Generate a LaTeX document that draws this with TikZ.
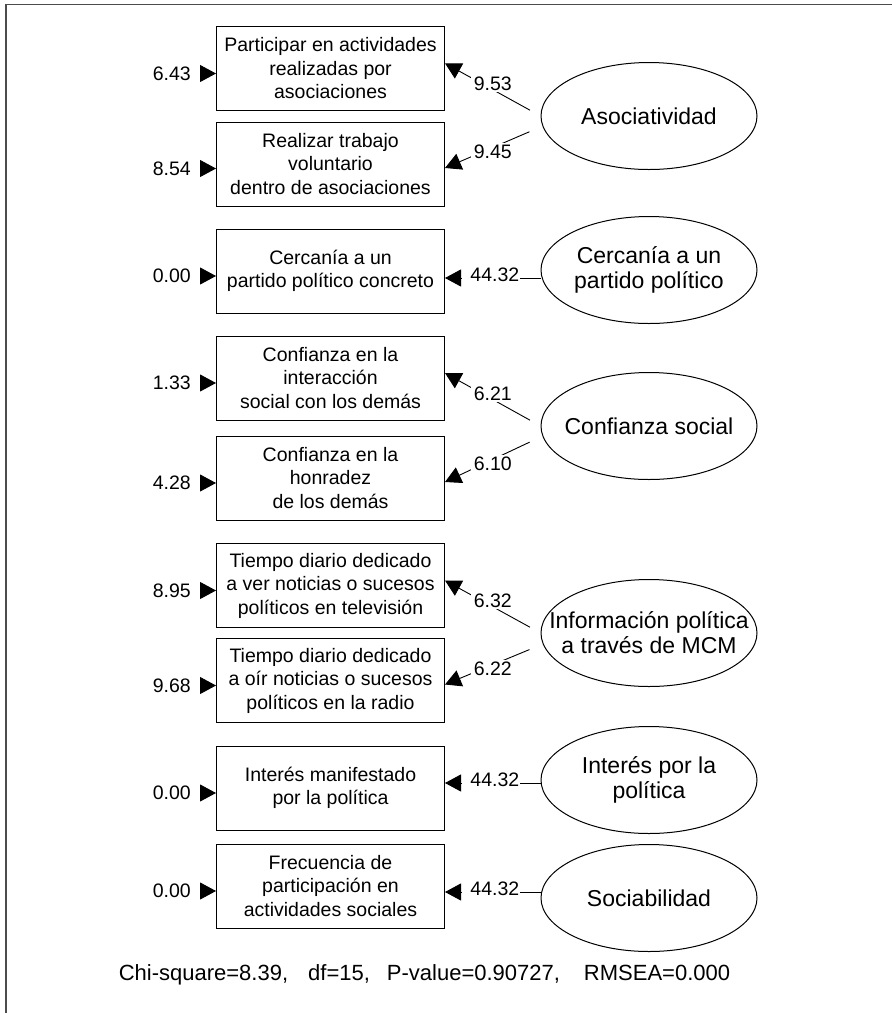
\documentclass[tikz,border=0pt]{standalone}
\usepackage{fontspec}
\setmainfont{Liberation Sans}
\usetikzlibrary{shapes.geometric,arrows.meta,calc}

\tikzset{
  obs/.style={draw, line width=1pt, minimum width=228pt, minimum height=84pt, inner sep=0pt, align=center, font=\fontsize{19.5}{23.5}\selectfont},
  lat/.style={draw, ellipse, line width=1pt, minimum width=216pt, minimum height=107pt, inner xsep=-30pt, inner ysep=0pt, align=center, font=\fontsize{23}{25}\selectfont},
  err/.style={anchor=east, inner sep=0pt, font=\fontsize{19.5}{23.5}\selectfont},
  lbl/.style={fill=white, inner xsep=3pt, inner ysep=1.5pt, font=\fontsize{19.5}{23.5}\selectfont},
  lblh/.style={lbl, anchor=base, yshift=-3pt, xshift=-1.5pt, inner xsep=1pt, text width=56pt, align=right},
  tip/.style={-{Triangle[length=16pt,width=17pt]}, line width=0.9pt},
}

\begin{document}
\begin{tikzpicture}[x=1pt,y=1pt]
    \useasboundingbox (0,0) rectangle (892,-1013);
    \draw[line width=1.5pt, black!70] (6,-1013) -- (6,-4.5) -- (892,-4.5);

    % Observed variables
    \node[obs] (p1) at (330.5,-68.3) {Participar en actividades\\realizadas por\\asociaciones};
    \node[obs] (p2) at (330.5,-164) {Realizar trabajo\\voluntario\\dentro de asociaciones};
    \node[obs] (p3) at (330.5,-271) {Cercanía a un\\partido político concreto};
    \node[obs] (p4) at (330.5,-378) {Confianza en la\\interacción\\social con los demás};
    \node[obs] (p5) at (330.5,-478) {Confianza en la\\honradez\\de los demás};
    \node[obs] (p6) at (330.5,-585.5) {Tiempo diario dedicado\\a ver noticias o sucesos\\políticos en televisión};
    \node[obs] (p7) at (330.5,-680.5) {Tiempo diario dedicado\\a oír noticias o sucesos\\políticos en la radio};
    \node[obs] (p8) at (330.5,-788) {Interés manifestado\\por la política};
    \node[obs] (p9) at (330.5,-886) {Frecuencia de\\participación en\\actividades sociales};

    % Latent variables
    \node[lat] (asoc) at (649,-116) {Asociatividad};
    \node[lat] (cerc) at (649,-270) {Cercanía a un\\partido político};
    \node[lat] (conf) at (649,-426) {Confianza social};
    \node[lat] (info) at (649,-633) {Información política\\a través de MCM};
    \node[lat] (inter) at (649,-780) {Interés por la\\política};
    \node[lat] (soc) at (649,-898) {Sociabilidad};

    % Error variances
    \node[err] (e1) at (191,-73.5) {6.43};
    \node[err] (e2) at (191,-168.5) {8.54};
    \node[err] (e3) at (191,-276) {0.00};
    \node[err] (e4) at (191,-383) {1.33};
    \node[err] (e5) at (191,-483) {4.28};
    \node[err] (e6) at (191,-590.5) {8.95};
    \node[err] (e7) at (191,-685.5) {9.68};
    \node[err] (e8) at (191,-793) {0.00};
    \node[err] (e9) at (191,-891) {0.00};
    \foreach \i in {1,...,9}
        \draw[tip, shorten <=9pt] (e\i.east) -- (e\i.east -| p\i.west);

    % Loadings
    \draw[tip, shorten <=12pt] (asoc.west) -- node[lbl, yshift=6pt] {9.53} ([yshift=5pt]p1.east);
    \draw[tip, shorten <=12pt] ([yshift=-11pt]asoc.west) -- node[lbl, yshift=-4pt] {9.45} ([yshift=-4pt]p2.east);
    \draw[tip] ($(p3.east -| cerc.west)+(0,-7)$) -- node[lblh] {44.32} ([yshift=-7pt]p3.east);
    \draw[tip, shorten <=12pt] (conf.west) -- node[lbl, yshift=6pt] {6.21} ([yshift=5pt]p4.east);
    \draw[tip, shorten <=12pt] ([yshift=-11pt]conf.west) -- node[lbl, yshift=-4pt] {6.10} ([yshift=-4pt]p5.east);
    \draw[tip, shorten <=12pt] (info.west) -- node[lbl, yshift=6pt] {6.32} ([yshift=5pt]p6.east);
    \draw[tip, shorten <=12pt] ([yshift=-12pt]info.west) -- node[lbl, yshift=-4pt] {6.22} ([yshift=-4pt]p7.east);
    \draw[tip] ($(p8.east -| inter.west)+(0,5)$) -- node[lblh] {44.32} ([yshift=5pt]p8.east);
    \draw[tip] ($(p9.east -| soc.west)+(0,-6)$) -- node[lblh] {44.32} ([yshift=-6pt]p9.east);

    % Fit
    \node[font=\fontsize{22}{24}\selectfont] (fit) at (424.5,-975) {Chi-square=8.39,\hspace{20pt}df=15,\hspace{17pt}P-value=0.90727,\hspace{24pt}RMSEA=0.000};
\end{tikzpicture}
\end{document}
